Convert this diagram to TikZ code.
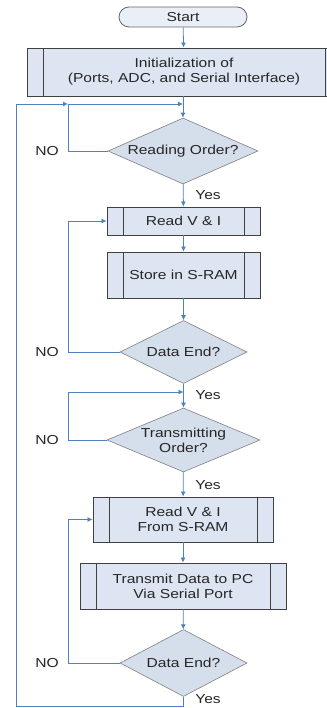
\documentclass[tikz,border=0pt]{standalone}
\usepackage{fontspec}
\setmainfont{Liberation Sans}[FakeStretch=1.2]
\usetikzlibrary{shapes.geometric,shapes.misc,arrows.meta,shadows}

\definecolor{boxfill}{RGB}{220,229,241}
\definecolor{decfill}{RGB}{213,222,235}
\definecolor{flowline}{RGB}{79,129,189}

\begin{document}
\begin{tikzpicture}[x=1pt,y=-1pt,
		txt/.style={font=\fontsize{13}{15}\selectfont, text=black!85, align=center},
		procbox/.style={txt, rectangle, draw=black!75, line width=0.9pt, fill=boxfill, inner sep=0pt,
			drop shadow={shadow xshift=1.2pt, shadow yshift=-1.2pt, fill=black!20},
			path picture={
				\draw[black!75, line width=0.8pt] ([xshift=16pt]path picture bounding box.north west) -- ([xshift=16pt]path picture bounding box.south west);
				\draw[black!75, line width=0.8pt] ([xshift=-16pt]path picture bounding box.north east) -- ([xshift=-16pt]path picture bounding box.south east);
			}},
		decision/.style={txt, diamond, draw=black!50, line width=0.6pt, fill=decfill, inner sep=0pt, aspect=2.3},
		flow/.style={draw=flowline, line width=0.8pt, -{Latex[length=5pt,width=5pt]}}]
				\useasboundingbox (0,0) rectangle (326,708);
				
				% Start and initialization
				\node[txt, rounded rectangle, draw=black!60, line width=0.8pt, fill=boxfill!60, minimum width=128pt, minimum height=20pt, inner sep=0pt] (start) at (183, 17) {Start};
				\node[procbox, minimum width=314pt, minimum height=48pt] (init) at (184, 72) {Initialization of\\(Ports, ADC, and Serial Interface)};
				
				% Reading part
				\node[decision, minimum width=150pt, minimum height=66pt] (readorder) at (183, 151) {Reading Order?};
				\node[procbox, minimum width=153pt, minimum height=28pt] (readvi) at (183.5, 221) {Read V \& I};
				\node[procbox, minimum width=153pt, minimum height=46pt] (store) at (183.5, 275) {Store in S-RAM};
				\node[decision, minimum width=127pt, minimum height=63pt] (dataend) at (183.5, 352) {Data End?};
				
				% Transmitting part
				\node[decision, minimum width=153pt, minimum height=64pt, aspect=2.4] (transorder) at (183.5, 440) {Transmitting\\Order?};
				\node[procbox, minimum width=180pt, minimum height=45pt] (readsram) at (183, 519.5) {Read V \& I\\From S-RAM};
				\node[procbox, minimum width=206pt, minimum height=46pt] (transmit) at (183, 586) {Transmit Data to PC\\Via Serial Port};
				\node[decision, minimum width=127pt, minimum height=67pt] (dataendtwo) at (183.5, 663) {Data End?};
				
				% Labels
				\node[txt] (noa) at (47, 151) {NO};
				\node[txt] (nob) at (47, 352) {NO};
				\node[txt] (noc) at (47, 440) {NO};
				\node[txt] (nod) at (47, 663) {NO};
				\node[txt] (yesa) at (208, 195) {Yes};
				\node[txt] (yesb) at (208, 395) {Yes};
				\node[txt] (yesc) at (208, 485) {Yes};
				\node[txt] (yesd) at (208, 699) {Yes};
				
				% Junctions
				\coordinate (topjoin) at (183, 104);
				\coordinate (loopjoin) at (68, 104);
				\coordinate (midjoin) at (183.5, 392);
				\coordinate (bottom) at (183.5, 706);
				
				% Main flow
				\draw[flow] (start) -- (init);
				\draw[flow] (init.south -| topjoin) -- (readorder.north);
				\draw[flow] (readorder) -- (readvi);
				\draw[flow] (readvi) -- (store);
				\draw[flow] (store) -- (dataend);
				\draw[flow] (dataend) -- (transorder);
				\draw[flow] (transorder) -- (readsram);
				\draw[flow] (readsram) -- (transmit);
				\draw[flow] (transmit) -- (dataendtwo);
				
				% NO loops
				\draw[flow] (readorder.west) -| (loopjoin) -- (topjoin);
				\draw[flow] (dataend.west) -- (68, 352) |- (readvi.west);
				\draw[flow] (transorder.west) -- (68, 440) |- (midjoin);
				\draw[flow] (dataendtwo.west) -- (68, 663) |- (readsram.west);
				
				% back to the start of reading
				\draw[flow] (dataendtwo.south) -- (bottom) -- (16, 706) -- (16, 104) -- (loopjoin);
			\end{tikzpicture}
\end{document}
